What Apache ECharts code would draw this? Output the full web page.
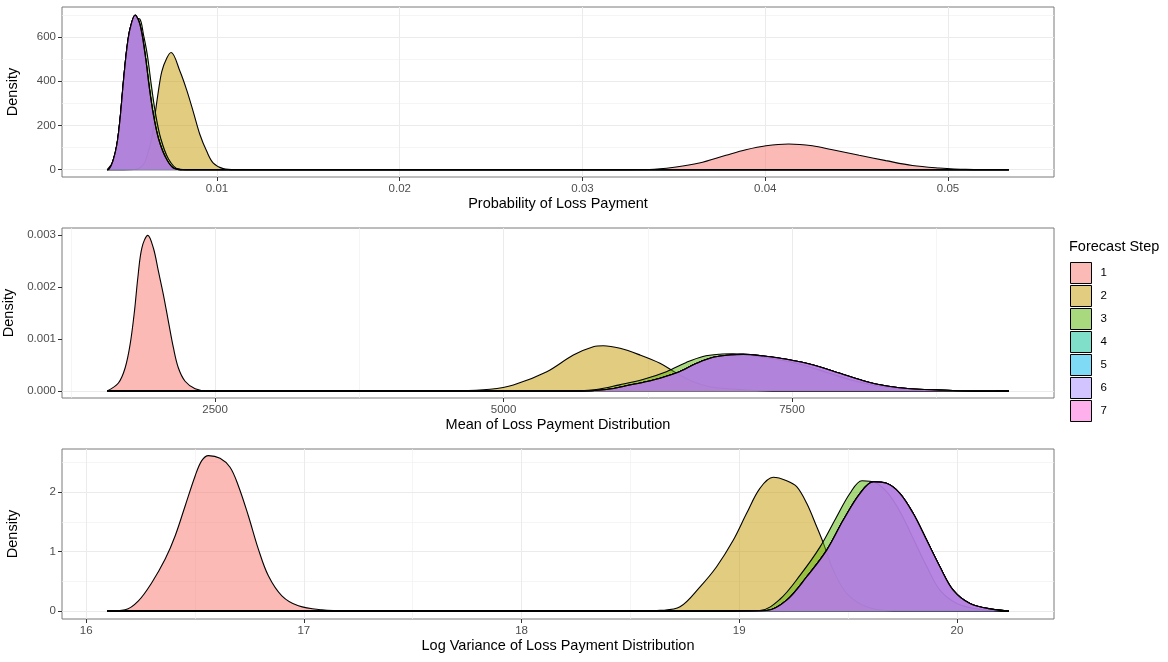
<!DOCTYPE html>
<html><head><meta charset="utf-8">
<script src="https://cdn.jsdelivr.net/npm/echarts@6/dist/echarts.min.js"></script>
<style>html,body{margin:0;padding:0;background:#fff}#chart{width:1168px;height:662px}</style>
</head><body><div id="chart"></div>
<script>
// ---------- DATA ----------
const seriesNames = ['1','2','3','4','5','6','7'];

// Panel 1: Probability of Loss Payment
const p1_x1 = [0.00399, 0.031, 0.03366, 0.03512, 0.03639, 0.03785, 0.03894, 0.04004, 0.04128, 0.04258, 0.04368, 0.04514, 0.0466, 0.04805, 0.04951, 0.05097, 0.05333];
const p1_y1 = [0, 0, 1, 12, 30, 65, 90, 108, 116, 108, 90, 65, 41, 19, 8, 1.5, 0];
const p1_x2 = [0.00399, 0.0055, 0.00597, 0.00619, 0.00643, 0.00661, 0.00679, 0.00698, 0.00725, 0.00749, 0.00798, 0.00834, 0.0087, 0.00907, 0.00944, 0.0098, 0.01034, 0.011, 0.05333];
const p1_y2 = [0, 1, 23, 68, 143, 248, 353, 444, 504, 530, 444, 361, 263, 158, 83, 30, 5, 0, 0];
const p1_x3 = [0.00399, 0.0043, 0.00452, 0.0047, 0.00488, 0.00507, 0.00525, 0.00552, 0.00577, 0.00598, 0.00619, 0.00643, 0.00665, 0.00692, 0.00734, 0.00789, 0.0085, 0.05333];
const p1_y3 = [0, 35, 108, 225, 390, 540, 630, 685, 682, 610, 519, 369, 248, 143, 50, 3, 0, 0];
const p1_x47 = [0.00399, 0.0041, 0.0043, 0.00452, 0.0047, 0.00488, 0.00507, 0.00525, 0.00552, 0.00579, 0.00607, 0.0063, 0.00652, 0.00679, 0.00716, 0.00761, 0.0082, 0.05333];
const p1_y4 = [0, 3, 38, 113, 233, 399, 550, 640, 699, 655, 519, 369, 248, 143, 60, 8, 0, 0];
const p1_y5 = [0, 3, 38, 113, 233, 399, 550, 640, 700, 655, 519, 369, 248, 143, 60, 8, 0, 0];
const p1_y6 = [0, 3, 38, 113, 233, 399, 550, 640, 700, 655, 519, 369, 248, 143, 60, 8, 0, 0];
const p1_y7 = [0, 3, 38, 113, 233, 399, 550, 640, 699, 655, 519, 369, 248, 143, 60, 8, 0, 0];

// Panel 2: Mean of Loss Payment Distribution
const p2_x1 = [1564, 1662, 1720, 1763, 1801, 1830, 1865, 1917, 1965, 2009, 2052, 2095, 2139, 2182, 2240, 2327, 2442, 9380];
const p2_y1 = [0, 0.000154, 0.000442, 0.00089, 0.001533, 0.002173, 0.00275, 0.002994, 0.00275, 0.0023, 0.00185, 0.00134, 0.000827, 0.000442, 0.000187, 0.000044, 0, 0];
const p2_x2 = [1564, 4623, 4883, 5085, 5375, 5605, 5778, 5865, 6010, 6183, 6356, 6501, 6645, 6818, 7108, 7396, 9380];
const p2_y2 = [0, 0.000005, 0.000033, 0.000115, 0.000371, 0.000692, 0.000852, 0.000871, 0.000821, 0.000692, 0.000533, 0.00034, 0.000179, 0.000071, 0.00002, 0, 0];
const p2_x3 = [1564, 5500, 5804, 6006, 6208, 6411, 6584, 6728, 6873, 6988, 7162, 7364, 7595, 7826, 8028, 8231, 8461, 8751, 8996, 9380];
const p2_y3 = [0, 0, 0.00003, 0.000118, 0.00022, 0.00037, 0.00055, 0.000665, 0.000708, 0.000715, 0.00068, 0.00061, 0.0005, 0.00034, 0.0002, 0.0001, 0.00004, 0.000013, 0.000003, 0];
const p2_x47 = [1564, 5600, 5894, 6096, 6298, 6501, 6674, 6818, 6963, 7078, 7252, 7454, 7685, 7916, 8118, 8321, 8551, 8841, 9086, 9380];
const p2_y4 = [0, 0, 0.00003, 0.000115, 0.000212, 0.000352, 0.000533, 0.000648, 0.000692, 0.000705, 0.000673, 0.00061, 0.0005, 0.00034, 0.000198, 0.000096, 0.000038, 0.000013, 0.000003, 0];
const p2_y5 = [0, 0, 0.00003, 0.000115, 0.000212, 0.000352, 0.000533, 0.000648, 0.000692, 0.000706, 0.000673, 0.00061, 0.0005, 0.00034, 0.000198, 0.000096, 0.000038, 0.000013, 0.000003, 0];
const p2_y6 = [0, 0, 0.00003, 0.000115, 0.000212, 0.000352, 0.000533, 0.000648, 0.000692, 0.000706, 0.000673, 0.00061, 0.0005, 0.00034, 0.000198, 0.000096, 0.000038, 0.000013, 0.000003, 0];
const p2_y7 = [0, 0, 0.00003, 0.000115, 0.000212, 0.000352, 0.000533, 0.000648, 0.000692, 0.000705, 0.000673, 0.00061, 0.0005, 0.00034, 0.000198, 0.000096, 0.000038, 0.000013, 0.000003, 0];

// Panel 3: Log Variance of Loss Payment Distribution
const p3_x1 = [16.096, 16.179, 16.24, 16.302, 16.363, 16.409, 16.455, 16.501, 16.531, 16.562, 16.615, 16.661, 16.699, 16.745, 16.791, 16.837, 16.899, 16.975, 17.082, 17.205, 17.5, 20.239];
const p3_y1 = [0, 0.022, 0.173, 0.482, 0.874, 1.266, 1.77, 2.274, 2.526, 2.61, 2.566, 2.415, 2.106, 1.602, 1.042, 0.593, 0.257, 0.089, 0.022, 0.003, 0, 0];
const p3_x2 = [16.096, 18.4, 18.544, 18.636, 18.728, 18.82, 18.896, 18.973, 19.034, 19.095, 19.156, 19.218, 19.264, 19.31, 19.356, 19.387, 19.432, 19.494, 19.585, 19.708, 20.239];
const p3_y2 = [0, 0, 0.003, 0.012, 0.072, 0.408, 0.745, 1.193, 1.642, 2.062, 2.247, 2.19, 2.089, 1.81, 1.417, 1.138, 0.689, 0.297, 0.072, 0.005, 0];
const p3_x3 = [16.096, 18.9, 19.095, 19.187, 19.279, 19.37, 19.444, 19.509, 19.564, 19.624, 19.683, 19.743, 19.803, 19.862, 19.922, 20.0, 20.106, 20.239];
const p3_y3 = [0, 0, 0.01, 0.2, 0.6, 1.07, 1.56, 1.98, 2.19, 2.16, 1.98, 1.64, 1.19, 0.745, 0.353, 0.129, 0.029, 0.004];
const p3_x47 = [16.096, 18.95, 19.126, 19.218, 19.31, 19.402, 19.478, 19.555, 19.616, 19.677, 19.738, 19.799, 19.861, 19.922, 19.983, 20.06, 20.167, 20.239];
const p3_y4 = [0, 0, 0.01, 0.185, 0.577, 1.025, 1.529, 1.978, 2.17, 2.146, 1.978, 1.642, 1.193, 0.745, 0.353, 0.129, 0.029, 0.005];
const p3_y5 = [0, 0, 0.01, 0.185, 0.577, 1.025, 1.529, 1.978, 2.173, 2.146, 1.978, 1.642, 1.193, 0.745, 0.353, 0.129, 0.029, 0.005];
const p3_y6 = [0, 0, 0.01, 0.185, 0.577, 1.025, 1.529, 1.978, 2.173, 2.146, 1.978, 1.642, 1.193, 0.745, 0.353, 0.129, 0.029, 0.005];
const p3_y7 = [0, 0, 0.01, 0.185, 0.577, 1.025, 1.529, 1.978, 2.17, 2.146, 1.978, 1.642, 1.193, 0.745, 0.353, 0.129, 0.029, 0.005];

// Tick values
const p1_xTicks = [0.01, 0.02, 0.03, 0.04, 0.05];
const p1_yTicks = [0, 200, 400, 600];
const p2_xTicks = [2500, 5000, 7500];
const p2_yTicks = [0, 0.001, 0.002, 0.003];
const p3_xTicks = [16, 17, 18, 19, 20];
const p3_yTicks = [0, 1, 2];
const p1_xMinor = [0.005, 0.015, 0.025, 0.035, 0.045, 0.055];
const p1_yMinor = [100, 300, 500, 700];
const p2_xMinor = [1250, 3750, 6250, 8750];
const p2_yMinor = [0.0005, 0.0015, 0.0025];
const p3_xMinor = [16.5, 17.5, 18.5, 19.5];
const p3_yMinor = [0.5, 1.5, 2.5];

const axisTitles = ['Probability of Loss Payment', 'Mean of Loss Payment Distribution', 'Log Variance of Loss Payment Distribution'];

// ---------- STYLE / BUILD ----------
const FONT = '"Liberation Sans", Arial, sans-serif';
const fillColors = ['rgba(248,118,109,0.5)', 'rgba(196,154,0,0.5)', 'rgba(83,180,0,0.5)', 'rgba(0,192,148,0.5)', 'rgba(0,182,235,0.5)', 'rgba(165,138,255,0.5)', 'rgba(251,97,215,0.5)'];

const panels = [
  { xs: [p1_x1, p1_x2, p1_x3, p1_x47, p1_x47, p1_x47, p1_x47], ys: [p1_y1, p1_y2, p1_y3, p1_y4, p1_y5, p1_y6, p1_y7],
    xMin: 0.00152, xMax: 0.0558, yMin: -33, yMax: 736, xTicks: p1_xTicks, yTicks: p1_yTicks, xMinor: p1_xMinor, yMinor: p1_yMinor,
    xFmt: v => v.toFixed(2), yFmt: v => String(Math.round(v)), top: 7 },
  { xs: [p2_x1, p2_x2, p2_x3, p2_x47, p2_x47, p2_x47, p2_x47], ys: [p2_y1, p2_y2, p2_y3, p2_y4, p2_y5, p2_y6, p2_y7],
    xMin: 1173, xMax: 9771, yMin: -0.000135, yMax: 0.003135, xTicks: p2_xTicks, yTicks: p2_yTicks, xMinor: p2_xMinor, yMinor: p2_yMinor,
    xFmt: v => String(Math.round(v)), yFmt: v => v.toFixed(3), top: 228 },
  { xs: [p3_x1, p3_x2, p3_x3, p3_x47, p3_x47, p3_x47, p3_x47], ys: [p3_y1, p3_y2, p3_y3, p3_y4, p3_y5, p3_y6, p3_y7],
    xMin: 15.889, xMax: 20.446, yMin: -0.132, yMax: 2.722, xTicks: p3_xTicks, yTicks: p3_yTicks, xMinor: p3_xMinor, yMinor: p3_yMinor,
    xFmt: v => String(Math.round(v)), yFmt: v => String(Math.round(v)), top: 449 }
];

const grids = [], xAxes = [], yAxes = [], series = [];
panels.forEach((p, pi) => {
  grids.push({ left: 62, top: p.top, width: 992, height: 170, show: true, borderColor: '#7A7A7A', borderWidth: 1,
    backgroundColor: 'rgba(0,0,0,0)', containLabel: false, outerBoundsMode: 'none' });
  xAxes.push({
    type: 'value', gridIndex: pi, min: p.xMin, max: p.xMax,
    name: axisTitles[pi], nameLocation: 'middle', nameGap: 19,
    nameTextStyle: { fontFamily: FONT, fontSize: 14.5, color: '#000' },
    axisLine: { show: false, onZero: false },
    splitLine: { show: false },
    axisTick: { show: true, customValues: p.xTicks, length: 4, lineStyle: { color: '#333333', width: 1 } },
    axisLabel: { customValues: p.xTicks, formatter: p.xFmt, color: '#4D4D4D', fontSize: 11.5, fontFamily: FONT, margin: 6 }
  });
  yAxes.push({
    type: 'value', gridIndex: pi, min: p.yMin, max: p.yMax,
    name: 'Density', nameLocation: 'middle', nameGap: 42,
    nameTextStyle: { fontFamily: FONT, fontSize: 14.5, color: '#000' },
    axisLine: { show: false, onZero: false },
    splitLine: { show: false },
    axisTick: { show: true, customValues: p.yTicks, length: 4, lineStyle: { color: '#333333', width: 1 } },
    axisLabel: { customValues: p.yTicks, formatter: p.yFmt, color: '#4D4D4D', fontSize: 11.5, fontFamily: FONT, margin: 6 }
  });
  const major = { color: '#EBEBEB', width: 1, type: 'solid' };
  const minor = { color: '#F1F1F1', width: 0.7, type: 'solid' };
  const ml = [];
  p.xMinor.forEach(v => ml.push({ xAxis: v, lineStyle: minor }));
  p.yMinor.forEach(v => ml.push({ yAxis: v, lineStyle: minor }));
  p.xTicks.forEach(v => ml.push({ xAxis: v, lineStyle: major }));
  p.yTicks.forEach(v => ml.push({ yAxis: v, lineStyle: major }));
  series.push({
    type: 'line', xAxisIndex: pi, yAxisIndex: pi, data: [[p.xMin, 0]], showSymbol: false, symbol: 'none',
    lineStyle: { opacity: 0 }, silent: true, z: 1,
    markLine: { silent: true, symbol: ['none', 'none'], z: 1, label: { show: false }, animation: false, data: ml }
  });
  for (let s = 0; s < 7; s++) {
    const xs = p.xs[s], ys = p.ys[s];
    series.push({
      type: 'line', name: seriesNames[s], xAxisIndex: pi, yAxisIndex: pi,
      data: xs.map((x, i) => [x, ys[i]]),
      smooth: 0.35, showSymbol: false, symbol: 'none', silent: true, z: 3 + s,
      itemStyle: { color: fillColors[s] },
      lineStyle: { color: '#000000', width: 1.1 },
      areaStyle: { color: fillColors[s], opacity: 1 }
    });
  }
});

const chart = echarts.init(document.getElementById('chart'), null, { renderer: 'canvas' });
chart.setOption({
  animation: false,
  backgroundColor: '#ffffff',
  textStyle: { fontFamily: FONT },
  grid: grids, xAxis: xAxes, yAxis: yAxes, series: series,
  legend: {
    data: seriesNames, orient: 'vertical', left: 1070, top: 262, padding: 0,
    itemWidth: 21, itemHeight: 21, itemGap: 1, icon: 'rect', selectedMode: false,
    itemStyle: { borderColor: '#000000', borderWidth: 1 },
    textStyle: { fontSize: 11.5, color: '#000', fontFamily: FONT, padding: [0, 0, 0, 4] }
  },
  graphic: [{ type: 'text', left: 1069, top: 239, style: { text: 'Forecast Step', font: '14.5px "Liberation Sans", Arial, sans-serif', fill: '#000' } }]
});
</script></body></html>
